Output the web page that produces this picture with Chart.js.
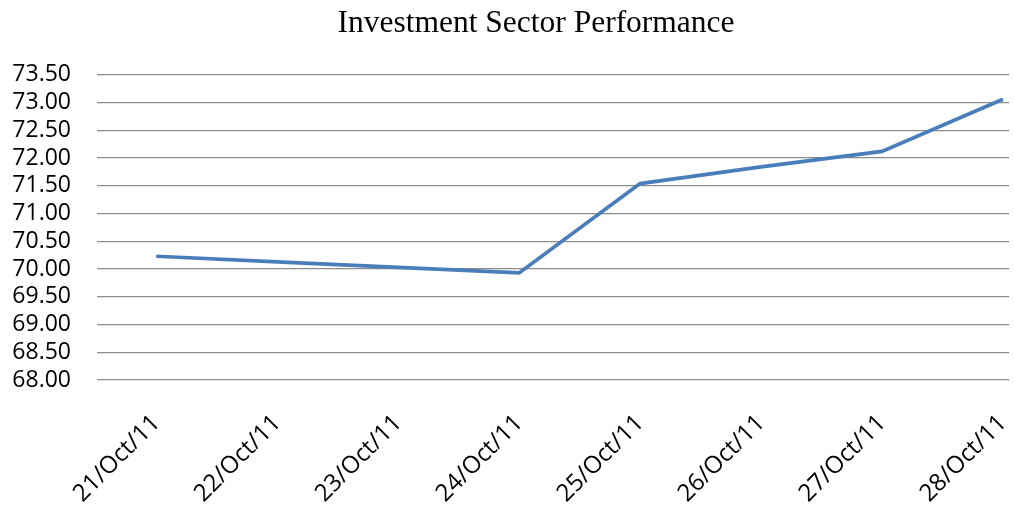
<!DOCTYPE html>
<html>
<head>
<meta charset="utf-8">
<title>Investment Sector Performance</title>
<script src="https://cdn.jsdelivr.net/npm/chart.js@4/dist/chart.umd.min.js"></script>
<style>
  html, body { margin: 0; padding: 0; background: #fff; }
  #wrap { width: 1015px; height: 505px; position: relative; }
</style>
</head>
<body>
<div id="wrap"><canvas id="perfChart"></canvas></div>
<script>
// Chart data
const dates = ['21/Oct/11', '22/Oct/11', '23/Oct/11', '24/Oct/11',
               '25/Oct/11', '26/Oct/11', '27/Oct/11', '28/Oct/11'];
const performance = [70.23, 70.13, 70.03, 69.93, 71.54, 71.84, 72.12, 73.06];
const yTicks = [68.00, 68.50, 69.00, 69.50, 70.00, 70.50, 71.00,
                71.50, 72.00, 72.50, 73.00, 73.50];

const fontFamily = '"Open Sans", sans-serif';

// the title in the original sits a little right of the canvas centre
const titleShift = {
  id: 'titleShift',
  afterLayout(chart) {
    if (chart.titleBlock) chart.titleBlock.left += 52;
  }
};

new Chart(document.getElementById('perfChart'), {
  type: 'line',
  data: {
    datasets: [{
      label: 'Performance',
      data: performance.map((v, i) => ({ x: i, y: v })),
      borderColor: '#4a7ebb',
      borderWidth: 3.7,
      pointRadius: 0,
      tension: 0,
      fill: false
    }]
  },
  options: {
    responsive: true,
    maintainAspectRatio: false,
    animation: false,
    layout: { padding: { left: 11, right: 6, top: 0, bottom: 2 } },
    plugins: {
      legend: { display: false },
      tooltip: { enabled: false },
      title: {
        display: true,
        text: 'Investment Sector Performance',
        color: '#000',
        font: { family: '"Liberation Serif", "Times New Roman", serif', size: 31.5, weight: 'normal' },
        padding: { top: 5, bottom: 32 }
      }
    },
    scales: {
      x: {
        type: 'linear',
        min: -0.49,
        max: 7.05,
        afterBuildTicks: axis => { axis.ticks = dates.map((d, i) => ({ value: i })); },
        // keep the plot area wide, like the original: labels may hang past it
        afterFit: axis => { axis.paddingLeft = 0; axis.paddingRight = 0; axis.height = 123; },
        ticks: {
          color: '#000',
          font: { family: fontFamily, size: 24 },
          minRotation: 45,
          maxRotation: 45,
          padding: 29,
          autoSkip: false,
          callback: v => dates[v]
        },
        grid: { display: false, drawTicks: false },
        border: { display: false }
      },
      y: {
        min: yTicks[0],
        max: yTicks[yTicks.length - 1],
        afterBuildTicks: axis => { axis.ticks = yTicks.map(v => ({ value: v })); },
        afterFit: axis => { axis.width = 86; },
        ticks: {
          color: '#000',
          font: { family: fontFamily, size: 23 },
          padding: 26,
          autoSkip: false,
          callback: v => v.toFixed(2)
        },
        grid: { color: '#8c8c8c', lineWidth: 1.3, drawTicks: false },
        border: { display: false }
      }
    }
  },
  plugins: [titleShift]
});
</script>
</body>
</html>
